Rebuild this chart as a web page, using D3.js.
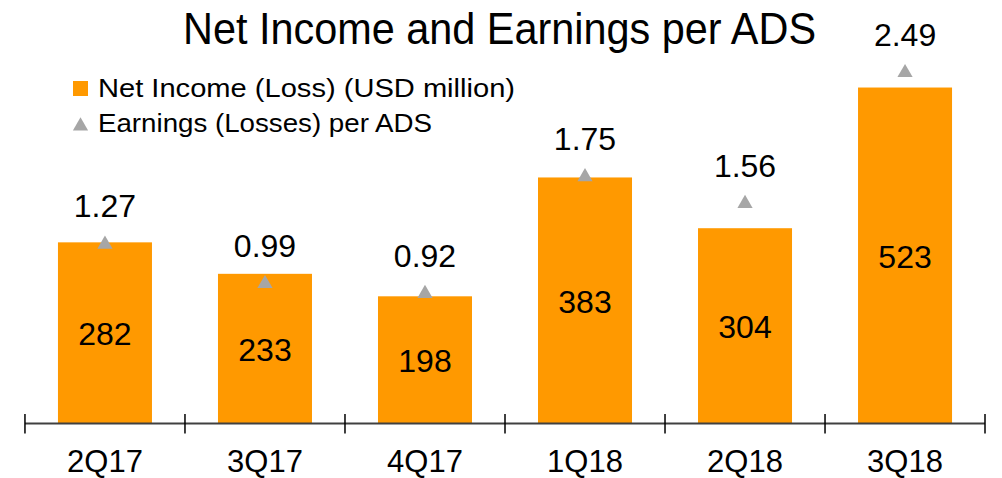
<!DOCTYPE html>
<html><head><meta charset="utf-8">
<script src="https://cdn.jsdelivr.net/npm/d3@7"></script>
<style>body{margin:0;background:#fff}svg{display:block}text{font-family:"Liberation Sans",Arial,sans-serif;fill:#000}</style>
</head><body><svg id="c" width="1002" height="478"></svg>
<script>
const categories = ["2Q17","3Q17","4Q17","1Q18","2Q18","3Q18"];
const netIncome = [282,233,198,383,304,523];
const eps = [1.27,0.99,0.92,1.75,1.56,2.49];
const epsLabels = ["1.27","0.99","0.92","1.75","1.56","2.49"];
const seriesNames = ["Net Income (Loss) (USD million)","Earnings (Losses) per ADS"];
const title = "Net Income and Earnings per ADS";

const svg = d3.select("#c");
const base = 423.5;
const x = d3.scaleBand().domain(categories).range([25,985]).paddingInner(0.4125).paddingOuter(0.206);
const y = d3.scaleLinear().domain([0,600]).range([base, base-600*0.6424]);
const y2 = d3.scaleLinear().domain([0,3]).range([423, 423-3*140.7]);
const orange = "#FF9900", grey = "#A6A6A6";

svg.append("text").attr("x",183).attr("y",44)
  .attr("textLength",633).attr("lengthAdjust","spacingAndGlyphs")
  .style("font-size","44px").text(title);

// bars
svg.selectAll("rect.bar").data(categories).join("rect").attr("class","bar")
  .attr("x",d=>x(d)).attr("width",x.bandwidth())
  .attr("y",(d,i)=>y(netIncome[i])).attr("height",(d,i)=>base-y(netIncome[i]))
  .attr("fill",orange);
svg.selectAll("text.bl").data(categories).join("text").attr("class","bl")
  .attr("x",d=>x(d)+x.bandwidth()/2).attr("y",(d,i)=>(y(netIncome[i])+base)/2+12.5)
  .attr("text-anchor","middle").style("font-size","32px").text((d,i)=>netIncome[i]);

// axis
const ax = svg.append("g").attr("transform",`translate(0,${base})`)
  .call(d3.axisBottom(x).tickSize(0));
ax.select(".domain").attr("stroke","#404040").attr("stroke-width",2).attr("d","M25,0H985");
ax.selectAll(".tick text").attr("y",48).attr("dy",0)
  .style("font-size","31px").style("font-family",'"Liberation Sans",Arial,sans-serif').attr("fill","#000");
const bounds = categories.map(c=>x(c)-x.step()*x.paddingInner()/2).concat([985]);
svg.selectAll("line.tk").data(bounds).join("line").attr("class","tk")
  .attr("x1",d=>d).attr("x2",d=>d).attr("y1",base-9.5).attr("y2",base+10)
  .attr("stroke","#000").attr("stroke-width",1.5);

// triangles
const tri = d3.symbol().type(d3.symbolTriangle).size(100);
svg.selectAll("path.tri").data(categories).join("path").attr("class","tri")
  .attr("transform",(d,i)=>`translate(${x(d)+x.bandwidth()/2},${y2(eps[i])})`)
  .attr("d",tri).attr("fill",grey);
svg.selectAll("text.el").data(categories).join("text").attr("class","el")
  .attr("x",d=>x(d)+x.bandwidth()/2).attr("y",(d,i)=>y2(eps[i])-27)
  .attr("text-anchor","middle").style("font-size","32px").text((d,i)=>epsLabels[i]);

// legend
svg.append("rect").attr("x",73).attr("y",81).attr("width",15).attr("height",15).attr("fill",orange);
svg.append("path").attr("d",tri).attr("transform","translate(80.5,126)").attr("fill",grey);
svg.append("text").attr("x",98).attr("y",97).attr("textLength",417).attr("lengthAdjust","spacingAndGlyphs")
  .style("font-size","26px").text(seriesNames[0]);
svg.append("text").attr("x",98).attr("y",132).attr("textLength",334).attr("lengthAdjust","spacingAndGlyphs")
  .style("font-size","26px").text(seriesNames[1]);
</script></body></html>
